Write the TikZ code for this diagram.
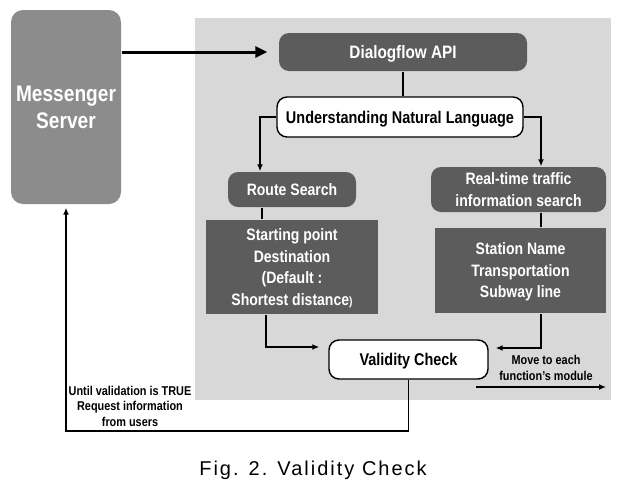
\documentclass[tikz,border=0pt]{standalone}
\usepackage{fontspec}
\setmainfont[FakeStretch=0.85]{Liberation Sans}
\newfontfamily\capfont[LetterSpace=10]{Liberation Sans}
\usetikzlibrary{arrows.meta}
\definecolor{panel}{RGB}{216,216,216}
\definecolor{srv}{RGB}{140,140,140}
\definecolor{dark}{RGB}{92,92,92}

\begin{document}
\begin{tikzpicture}[x=1pt, y=-1pt, >={Latex[length=7pt,width=6pt]}, line width=1.4pt,
	darkbox/.style={fill=dark, text=white, align=center, inner sep=0pt, text depth=0pt, font=\bfseries\fontsize{16.5}{21.5}\selectfont},
	whitebox/.style={draw=black, fill=white, rounded corners=10pt, inner sep=0pt, text depth=0pt, font=\bfseries\fontsize{17}{21}\selectfont},
	note/.style={align=center, font=\bfseries\fontsize{12.8}{15.5}\selectfont}]

	\useasboundingbox (0,0) rectangle (626,488);
	\fill[panel] (195,18) rectangle (611,400);

	% boxes
	\node[fill=srv, text=white, rounded corners=12pt, minimum width=110pt, minimum height=194pt, inner sep=0pt, align=center, font=\bfseries\fontsize{22.5}{27}\selectfont] (msg) at (66,107) {Messenger\\Server};
	\node[darkbox, rounded corners=10pt, minimum width=248pt, minimum height=38pt, font=\bfseries\fontsize{18}{21}\selectfont] (dfa) at (403,52) {Dialogflow API};
	\node[whitebox, minimum width=246pt, minimum height=40pt] (unl) at (400,117) {Understanding Natural Language};
	\node[darkbox, rounded corners=10pt, minimum width=128pt, minimum height=35pt] (rs) at (292,189.5) {Route Search};
	\node[darkbox, rounded corners=10pt, minimum width=175pt, minimum height=45pt] (rt) at (518.5,189.5) {Real-time traffic\\information search};
	\node[darkbox, minimum width=172pt, minimum height=94pt] (sp) at (292,267) {Starting point\\Destination\\(Default :\\Shortest distance{\fontsize{12}{12}\selectfont)}};
	\node[darkbox, minimum width=171pt, minimum height=85pt] (st) at (520.5,270.5) {Station Name\\Transportation\\Subway line};
	\node[whitebox, minimum width=159pt, minimum height=39pt] (vc) at (408.5,359.5) {Validity Check};

	% connectors
	\draw[line width=3pt, -{Triangle[length=12pt,width=11pt]}, shorten >=11pt] (msg.east |- dfa.west) -- (dfa.west);
	\draw (dfa.south) -- (dfa.south |- unl.north);
	\draw[->] (unl.west) -| ([xshift=-32pt]rs.north);
	\draw[->] (unl.east) -| ([xshift=22.5pt]rt.north);
	\draw ([xshift=-30pt]rs.south) -- ([xshift=-30pt]rs.south |- sp.north);
	\draw ([xshift=22.5pt]rt.south) -- ([xshift=22.5pt]rt.south |- st.north);
	\draw[->, shorten >=9pt] ([xshift=-26pt]sp.south) |- ([yshift=12.5pt]vc.west);
	\draw[->, shorten >=7pt] ([xshift=20.5pt]st.south) |- ([yshift=11.5pt]vc.east);
	\draw[->, shorten >=3pt] (vc.south) |- (66,431) -- (msg.south);

	\coordinate (mv1) at (476,387);
	\coordinate (mv2) at (606,387);
	\draw[->] (mv1) -- (mv2);

	% labels
	\node[note] (mvtxt) at (546,368) {Move to each\\function's module};
	\node[note] (untxt) at (130,406) {Until validation is TRUE\\Request information\\from users};
	\node[font=\capfont\fontsize{20}{20}\selectfont] (cap) at (313,470) {Fig. 2. Validity Check};
\end{tikzpicture}
\end{document}
